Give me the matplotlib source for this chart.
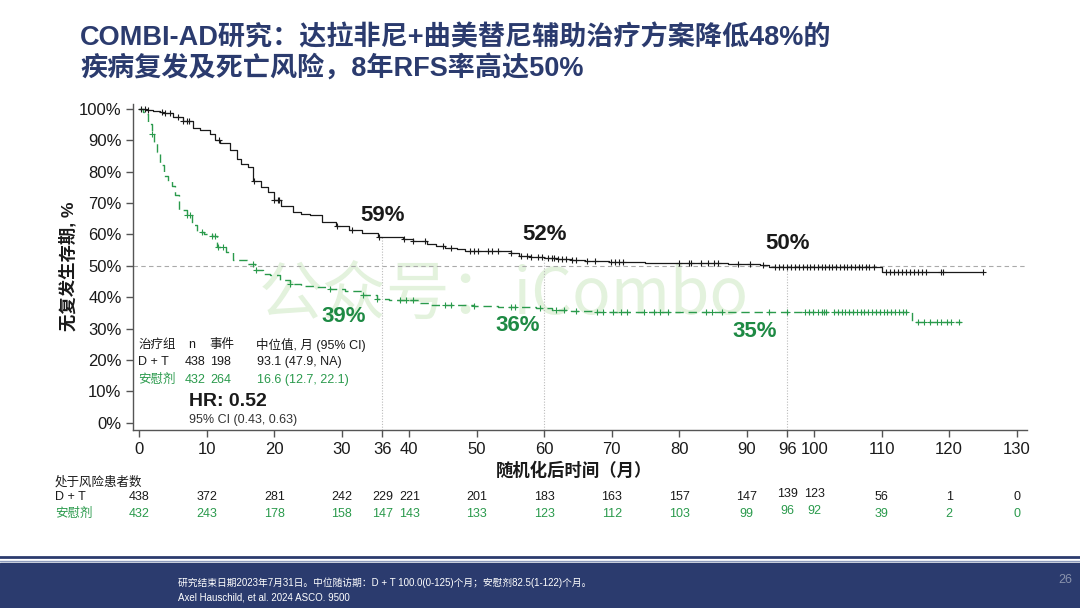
import numpy as np
import matplotlib
matplotlib.use('agg')
import matplotlib.pyplot as plt
from matplotlib.transforms import blended_transform_factory

plt.rcParams['font.family'] = ['Liberation Sans', 'Noto Sans CJK SC', 'DejaVu Sans']

# KM curve D+T (time in months, RFS %)
dt_t = [0, 1, 2, 3, 3.5, 5, 6.5, 8, 9, 10.5, 11.2, 12, 13.4, 14.4, 15, 16.1, 16.9, 18, 19.1, 19.9,
        21, 22.8, 24, 25.3, 27, 29.2, 31, 33, 35.4, 37, 39.1, 40.5, 42.6, 44, 45.3, 47, 48.3, 55,
        56.2, 58, 59.9, 62, 64.1, 66, 69.6, 75, 80, 87.2, 92, 93.3, 110.1, 125]
dt_s = [100, 99.7, 99.4, 99.0, 98.5, 97.5, 96, 94, 93.2, 92, 90, 89, 87, 84, 82.5, 81.3, 77, 75, 73.5, 71,
        69, 67, 66.5, 66, 64, 62.5, 61.5, 60.5, 59.2, 59, 58.5, 57.8, 57, 56.3, 55.8, 55.2, 54.6, 54.2,
        53.2, 52.8, 52.4, 52.1, 51.8, 51.5, 51.1, 51.0, 50.9, 50.7, 50.2, 49.5, 48.1, 48.1]
dt_cens = [0.3, 0.8, 1.3, 3.3, 3.8, 4.5, 5.7, 6.5, 7.0, 7.3, 11.8, 17.0, 20.0, 20.5, 20.7, 29.3, 31.5,
           35.5, 39.2, 40.5, 42.3, 45.0, 46.2, 49.0, 49.6, 50.2, 51.7, 52.3, 53.2, 55.0, 56.5, 57.5, 58.1,
           59.0, 59.6, 60.5, 61.1, 61.4, 62.0, 62.6, 63.2, 64.1, 64.7, 66.3, 67.5, 69.9, 70.5, 71.1, 71.7,
           79.9, 81.4, 81.7, 83.2, 84.2, 85.1, 85.7, 88.7, 90.5, 92.4, 94.2, 94.8, 95.4, 96.0, 96.6, 97.2,
           97.8, 98.3, 98.9, 99.4, 100.0, 100.5, 101.1, 101.6, 102.2, 102.7, 103.3, 103.8, 104.4, 104.9,
           105.5, 106.0, 106.6, 107.1, 107.7, 108.2, 108.8, 110.6, 111.2, 111.8, 112.4, 113.0, 113.6,
           114.2, 114.8, 115.4, 116.0, 116.6, 118.8, 119.1, 125.0]

# KM curve placebo
pbo_t = [0, 0.5, 0.8, 1.2, 1.8, 2.2, 2.6, 3.1, 3.6, 4.2, 4.8, 5.3, 5.8, 7.0, 7.8, 8.5, 9.5, 10.7, 11.5,
         12.9, 13.9, 15.9, 17.1, 18.3, 19.4, 20.8, 22.3, 24, 26.3, 28.3, 30.5, 33.2, 35.2, 37, 38.6,
         41.6, 43.1, 49.6, 53.2, 58.7, 61.1, 64, 67.2, 114.5, 121.8]
pbo_s = [100, 99, 98.3, 95, 92, 89, 86.1, 82, 78.7, 77, 75.5, 72.4, 67.6, 66, 63, 60.9, 60, 59.6, 55.9,
         54.3, 51.7, 50.6, 48.5, 47.5, 46.9, 45.5, 44.3, 43.7, 43.2, 42.7, 41.8, 40.6, 39.5, 39.2, 39.0,
         38.1, 37.6, 37.3, 36.8, 36.5, 35.9, 35.5, 35.2, 32.0, 32.0]
pbo_cens = [1.8, 7.0, 7.5, 9.2, 10.7, 11.2, 11.7, 12.4, 16.9, 17.3, 22.3, 28.3, 33.2, 35.2, 38.6, 39.5,
            40.5, 45.3, 46.2, 49.6, 55.0, 55.6, 59.3, 61.7, 62.9, 64.7, 67.8, 68.7, 70.2, 71.4, 72.3,
            74.8, 76.3, 77.2, 78.4, 83.9, 84.8, 86.3, 93.3, 96.0, 98.7, 99.3, 99.9, 100.5, 101.2, 101.5,
            101.8, 103.0, 103.5, 104.1, 104.6, 105.2, 105.8, 106.3, 106.9, 107.4, 108.0, 108.6, 109.1,
            109.7, 110.3, 110.8, 111.4, 112.0, 112.5, 113.1, 113.6, 115.4, 116.3, 117.2, 118.2, 118.8,
            119.7, 120.3, 121.5]

# landmarks
mark_t = [36, 60, 96]
mark_dt = ['59%', '52%', '50%']
mark_pbo = ['39%', '36%', '35%']

# number at risk
risk_t = [0, 10, 20, 30, 36, 40, 50, 60, 70, 80, 90, 96, 100, 110, 120, 130]
risk_dt = [438, 372, 281, 242, 229, 221, 201, 183, 163, 157, 147, 139, 123, 56, 1, 0]
risk_pbo = [432, 243, 178, 158, 147, 143, 133, 123, 112, 103, 99, 96, 92, 39, 2, 0]

xticks = [0, 10, 20, 30, 36, 40, 50, 60, 70, 80, 90, 96, 100, 110, 120, 130]
yticks = list(range(0, 101, 10))

BLACK = '#1a1a1a'
GREEN = '#2a9a4c'
GREEN_TXT = '#1e8a44'
NAVY = '#2b3b6e'


def km_at(t, times, surv):
    i = np.searchsorted(times, t, side='right') - 1
    return np.asarray(surv)[i]


def fx(px):
    return px / 1080


def fy(py):
    return 1 - py / 608


fig = plt.figure(figsize=(10.8, 6.08), dpi=100)
ax = fig.add_axes([fx(132.7), fy(430), fx(1026.7) - fx(132.7), fy(104) - fy(430)])

ax.set_xlim(-1, 131.5)
ax.set_ylim(-2.3, 101.5)

# watermark
ax.text(54, 40.6, '公众号：iCombo', fontsize=46, color='#e3f2dd', ha='center', va='center',
        family=['Noto Sans CJK SC', 'DejaVu Sans'], zorder=0)

ax.axhline(50, color='#aaaaaa', lw=0.8, ls=(0, (4, 3)), zorder=1)
for t in mark_t:
    ax.vlines(t, -2.3, km_at(t, dt_t, dt_s), color='#bbbbbb', lw=0.8, ls=(0, (1, 1.5)), zorder=1)

ax.step(dt_t, dt_s, where='post', color=BLACK, lw=0.9, zorder=3)
ax.step(pbo_t, pbo_s, where='post', color=GREEN, lw=1.0, ls=(0, (6, 3.5)), zorder=3)
ax.plot(dt_cens, km_at(dt_cens, dt_t, dt_s), ls='none', marker='+', ms=5, mew=0.8, color=BLACK, zorder=4)
ax.plot(pbo_cens, km_at(pbo_cens, pbo_t, pbo_s), ls='none', marker='+', ms=5, mew=0.8, color=GREEN, zorder=4)

# landmark labels
ax.text(36.1, 66.0, mark_dt[0], fontsize=16, fontweight='bold', color=BLACK, ha='center', va='center')
ax.text(60.1, 59.9, mark_dt[1], fontsize=16, fontweight='bold', color=BLACK, ha='center', va='center')
ax.text(96.1, 57.0, mark_dt[2], fontsize=16, fontweight='bold', color=BLACK, ha='center', va='center')
ax.text(30.3, 33.9, mark_pbo[0], fontsize=16, fontweight='bold', color=GREEN_TXT, ha='center', va='center')
ax.text(56.0, 31.0, mark_pbo[1], fontsize=16, fontweight='bold', color=GREEN_TXT, ha='center', va='center')
ax.text(91.2, 29.1, mark_pbo[2], fontsize=16, fontweight='bold', color=GREEN_TXT, ha='center', va='center')

for s in ['top', 'right']:
    ax.spines[s].set_visible(False)
for s in ['left', 'bottom']:
    ax.spines[s].set_color('#555555')
    ax.spines[s].set_linewidth(1.0)
ax.spines['bottom'].set_bounds(-1, 131.5)

ax.set_xticks(xticks)
ax.set_xticklabels([str(v) for v in xticks])
ax.set_yticks(yticks)
ax.set_yticklabels(['%d%%' % v for v in yticks])
ax.tick_params(axis='both', direction='out', length=5, width=1, color='#555555',
               labelsize=12, labelcolor='#1a1a1a')
ax.tick_params(axis='x', pad=4)
ax.tick_params(axis='y', pad=3)

# axis titles
fig.text(fx(68), fy(266), '无复发生存期, %', rotation=90, fontsize=12.5, fontweight='bold',
         ha='center', va='center', color=BLACK)
fig.text(fx(574), fy(470), '随机化后时间（月）', fontsize=12.5, fontweight='bold',
         ha='center', va='center', color=BLACK)

# summary table
tbl_fs = 9
fig.text(fx(138), fy(345), '治疗组', fontsize=tbl_fs, va='center', color=BLACK)
fig.text(fx(188), fy(345), 'n', fontsize=tbl_fs, va='center', color=BLACK)
fig.text(fx(209), fy(345), '事件', fontsize=tbl_fs, va='center', color=BLACK)
fig.text(fx(256), fy(345), '中位值, 月 (95% CI)', fontsize=tbl_fs, va='center', color=BLACK)
fig.text(fx(138), fy(362), 'D + T', fontsize=tbl_fs, va='center', color=BLACK)
fig.text(fx(185), fy(362), '438', fontsize=tbl_fs, va='center', color=BLACK)
fig.text(fx(210), fy(362), '198', fontsize=tbl_fs, va='center', color=BLACK)
fig.text(fx(257), fy(362), '93.1 (47.9, NA)', fontsize=tbl_fs, va='center', color=BLACK)
fig.text(fx(138), fy(380), '安慰剂', fontsize=tbl_fs, va='center', color=GREEN)
fig.text(fx(185), fy(380), '432', fontsize=tbl_fs, va='center', color=GREEN)
fig.text(fx(210), fy(380), '264', fontsize=tbl_fs, va='center', color=GREEN)
fig.text(fx(257), fy(380), '16.6 (12.7, 22.1)', fontsize=tbl_fs, va='center', color=GREEN)
fig.text(fx(189), fy(401), 'HR: 0.52', fontsize=14, fontweight='bold', va='center', color=BLACK)
fig.text(fx(189), fy(420), '95% CI (0.43, 0.63)', fontsize=tbl_fs, va='center', color='#333333')

# number at risk
tr = blended_transform_factory(ax.transData, fig.transFigure)
fig.text(fx(55), fy(482), '处于风险患者数', fontsize=9, va='center', color=BLACK)
fig.text(fx(55), fy(497), 'D + T', fontsize=9, va='center', color=BLACK)
fig.text(fx(55), fy(514), '安慰剂', fontsize=9, va='center', color=GREEN)
for t, a, b in zip(risk_t, risk_dt, risk_pbo):
    dy = 3 if t in (96, 100) else 0
    ax.text(t, fy(497 - dy), str(a), transform=tr, fontsize=9, ha='center', va='center', color=BLACK)
    ax.text(t, fy(514 - dy), str(b), transform=tr, fontsize=9, ha='center', va='center', color=GREEN)

# title
fig.text(fx(80), fy(38), 'COMBI-AD研究：达拉非尼+曲美替尼辅助治疗方案降低48%的', fontsize=19.5,
         fontweight='bold', color=NAVY, va='center')
fig.text(fx(80), fy(68), '疾病复发及死亡风险，8年RFS率高达50%', fontsize=19.5,
         fontweight='bold', color=NAVY, va='center')

# footer
fig.add_artist(plt.Rectangle((0, 0), 1, fy(563), transform=fig.transFigure, color=NAVY, zorder=0))
fig.add_artist(plt.Line2D([0, 1], [fy(557), fy(557)], transform=fig.transFigure, color=NAVY, lw=2))
fig.add_artist(plt.Line2D([0, 1], [fy(560.5), fy(560.5)], transform=fig.transFigure, color='#8d9bbd', lw=1))
fig.text(fx(178), fy(583), '研究结束日期2023年7月31日。中位随访期：D + T 100.0(0-125)个月；安慰剂82.5(1-122)个月。',
         fontsize=7, color='white', va='center')
fig.text(fx(178), fy(597), 'Axel Hauschild, et al. 2024 ASCO. 9500', fontsize=7, color='white', va='center')
fig.text(fx(1072), fy(580), '26', fontsize=9, color='#8a93ad', va='center', ha='right')

fig.savefig('out.png', dpi=100)
